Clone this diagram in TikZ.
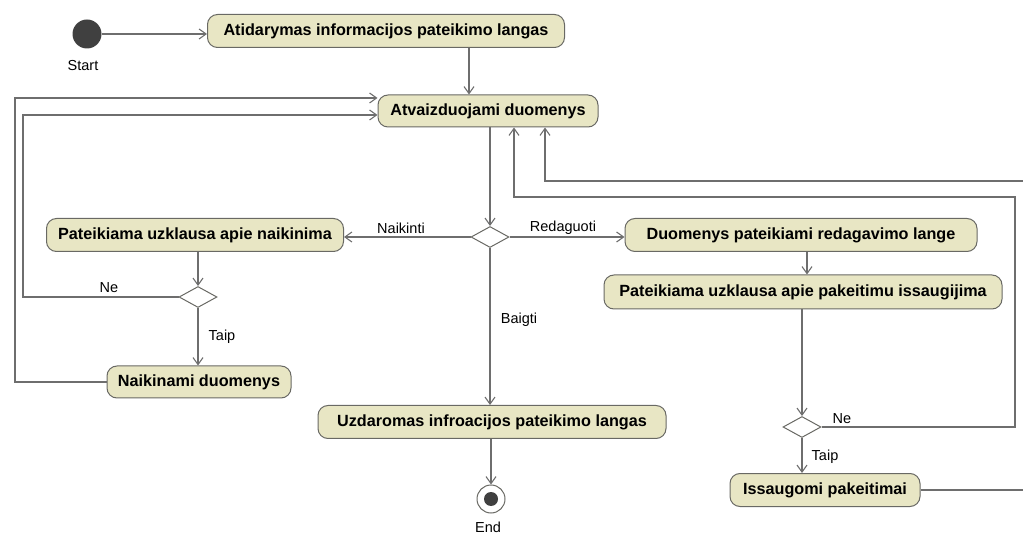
\documentclass[tikz,border=0pt]{standalone}
\usepackage{fontspec}
\setmainfont{Liberation Sans}
\usetikzlibrary{arrows.meta,shapes.geometric,calc}
\definecolor{boxfill}{RGB}{232,230,196}
\definecolor{edgec}{RGB}{105,105,100}
\definecolor{linec}{RGB}{110,110,110}
\definecolor{startc}{RGB}{64,64,64}
\begin{document}
\begin{tikzpicture}[x=1pt,y=-1pt,
  act/.style={draw=edgec, line width=1pt, fill=boxfill, rounded corners=10pt,
    font=\fontsize{16.2}{18}\selectfont\bfseries, inner sep=0pt, minimum height=33pt},
  dec/.style={draw=edgec, line width=1pt, fill=white, diamond, inner sep=0pt,
    minimum width=38pt, minimum height=21pt},
  arr/.style={draw=linec, line width=1.1pt, -{Straight Barb[length=7pt,width=10pt]}},
  lbl/.style={font=\fontsize{14.5}{16}\selectfont, inner sep=0pt}]
\useasboundingbox (0,0) rectangle (1023,534);
% nodes
\node[circle, fill=startc, minimum size=29pt, inner sep=0pt] (start) at (87,34) {};
\node[lbl] (startlbl) at (83,66) {Start};
\node[act, minimum width=357pt] (b1) at (386,31) {Atidarymas informacijos pateikimo langas};
\node[act, minimum width=220pt, minimum height=32pt] (b2) at (488,111) {Atvaizduojami duomenys};
\node[dec] (d1) at (490,237) {};
\node[act, minimum width=297pt] (b3) at (195,235) {Pateikiama uzklausa apie naikinima};
\node[act, minimum width=352pt] (b4) at (801,235) {Duomenys pateikiami redagavimo lange};
\node[act, minimum width=398pt, minimum height=34pt] (b5) at (803,292) {Pateikiama uzklausa apie pakeitimu issaugijima};
\node[dec] (d2) at (198,297) {};
\node[act, minimum width=184pt, minimum height=32pt] (b6) at (199,382) {Naikinami duomenys};
\node[act, minimum width=348pt, minimum height=33pt] (b7) at (492,422) {Uzdaromas infroacijos pateikimo langas};
\node[circle, draw=edgec, line width=1pt, fill=white, minimum size=28pt, inner sep=0pt] (end) at (491,499) {};
\node[circle, fill=startc, minimum size=14pt, inner sep=0pt] (enddot) at (end) {};
\node[lbl] (endlbl) at (488,527) {End};
\node[dec] (d3) at (802,427) {};
\node[act, minimum width=190pt] (b8) at (825,490) {Issaugomi pakeitimai};
% labels
\node[lbl] (lnaik) at (401,228) {Naikinti};
\node[lbl] (lred) at (563,228) {Redaguoti};
\node[lbl] (lbaig) at (519,320) {Baigti};
\node[lbl] (lne1) at (109,288) {Ne};
\node[lbl] (ltaip1) at (222,337) {Taip};
\node[lbl] (lne2) at (842,419) {Ne};
\node[lbl] (ltaip2) at (825,457) {Taip};
% helper coordinates
\coordinate (x469) at (469,0);
\coordinate (x807) at (807,0);
\coordinate (x514) at (514,0);
\coordinate (x545) at (545,0);
\coordinate (lin) at (23,115);
\coordinate (lout) at (15,98);
\coordinate (rin) at (1015,197);
\coordinate (rout) at (1040,181);
% connectors
\draw[arr] (start) -- (start -| b1.west);
\draw[arr] (b1.south -| x469) -- (b2.north -| x469);
\draw[arr] (b2.south -| d1) -- (d1.north);
\draw[arr] (d1.west) -- (d1.west -| b3.east);
\draw[arr] (d1.east) -- (d1.east -| b4.west);
\draw[arr] (d1.south) -- (d1.south |- b7.north);
\draw[arr] (b7.south -| end) -- (end.north);
\draw[arr] (b3.south -| d2) -- (d2.north);
\draw[arr] (d2.south) -- (d2.south |- b6.north);
\draw[arr] (d2.west) -| (lin) -- (b2.west |- lin);
\draw[arr] (b6.west) -| (lout) -- (b2.west |- lout);
\draw[arr] (b4.south -| x807) -- (b5.north -| x807);
\draw[arr] (b5.south -| d3) -- (d3.north);
\draw[arr] (d3.south) -- (d3.south |- b8.north);
\draw[arr] (d3.east) -| (rin) -- (rin -| x514) -- (b2.south -| x514);
\draw[arr] (b8.east) -| (rout) -- (rout -| x545) -- (b2.south -| x545);
\end{tikzpicture}
\end{document}
